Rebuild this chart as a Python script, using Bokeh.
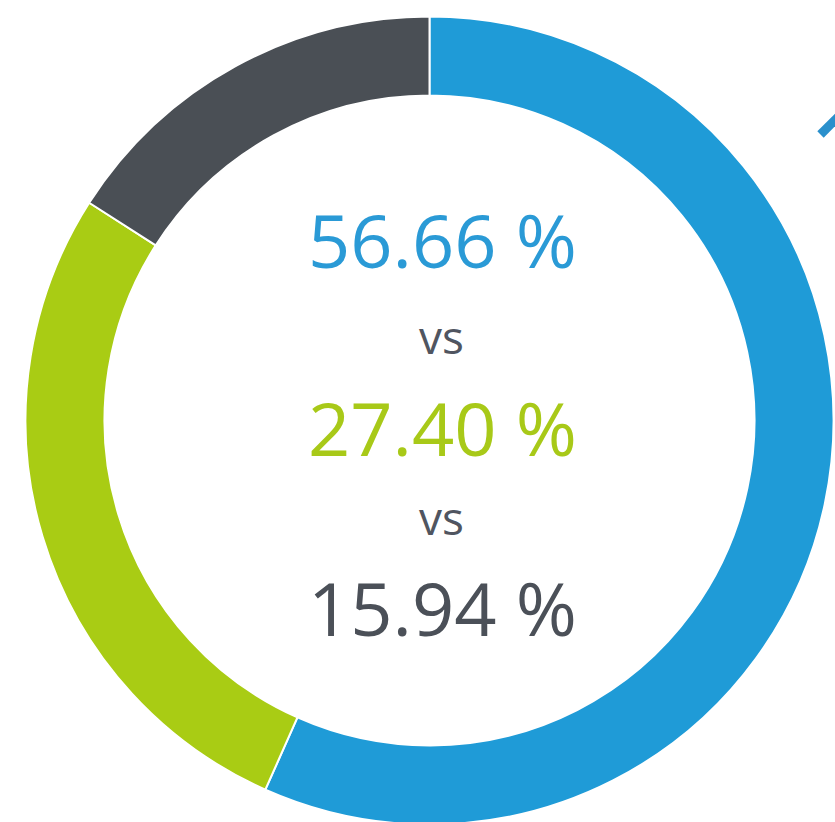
import numpy as np
from bokeh.plotting import figure
from bokeh.models import Range1d
from bokeh.core.properties import value
from bokeh.embed import file_html
from bokeh.resources import INLINE

# ---- data ----
labels = ["Blue", "Green", "Dark"]
shares = [56.66, 27.40, 15.94]
colors = ["#1f9bd7", "#a9cc14", "#4a4f55"]
text_colors = ["#2a9ad6", "#a8c918", "#4b5058"]
texts = ["56.66 %", "27.40 %", "15.94 %"]

W, H = 835, 822
p = figure(width=W, height=H, output_backend="svg", toolbar_location=None,
           x_range=Range1d(0, W), y_range=Range1d(0, H), min_border=0)
p.axis.visible = False
p.grid.visible = False
p.outline_line_color = None
p.background_fill_color = "white"
p.border_fill_color = "white"

cx, cy = 429, H - 420
vals = np.array(shares)
cum = np.concatenate([[0], np.cumsum(vals)]) / vals.sum() * 2 * np.pi
start = np.pi / 2 - cum[:-1]
end = np.pi / 2 - cum[1:]

p.annular_wedge(x=cx, y=cy, inner_radius=325, outer_radius=404,
                start_angle=start, end_angle=end, direction="clock",
                fill_color=colors, line_color="white", line_width=2)

# center texts
ys = [H - 239, H - 427, H - 607]
p.text(x=[442] * 3, y=ys, text=texts, text_color=text_colors,
       text_font=value("Open Sans"), text_font_size="74px",
       text_align="center", text_baseline="middle")
p.text(x=[441, 441], y=[H - 335, H - 516], text=["vs", "vs"], text_color="#505560",
       text_font=value("Open Sans"), text_font_size="46px",
       text_align="center", text_baseline="middle")

# decorative fragment at top right
p.line(x=[820, 842], y=[H - 134, H - 112], line_color="#2a90cc", line_width=9)

open("out.html", "w").write(file_html(p, INLINE))
